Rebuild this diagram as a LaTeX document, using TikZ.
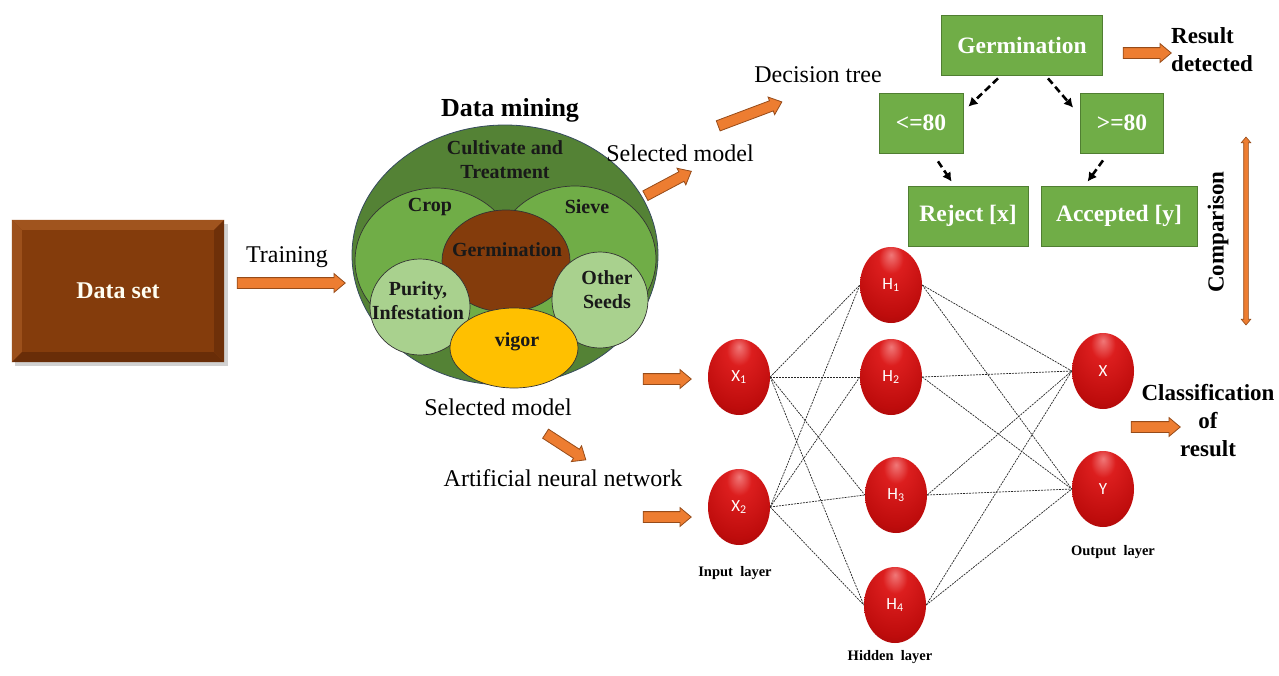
\documentclass[tikz,border=0pt]{standalone}
\usepackage{fontspec}
\setmainfont{Liberation Serif}
\newfontfamily\nnfont{Carlito}
\usetikzlibrary{shapes.geometric,shapes.arrows,arrows.meta,calc}
\definecolor{dkgreen}{RGB}{84,130,53}
\definecolor{mdgreen}{RGB}{112,173,71}
\definecolor{ltgreen}{RGB}{169,209,142}
\definecolor{brownc}{RGB}{132,60,12}
\definecolor{brownlt}{RGB}{160,84,30}
\definecolor{browndk}{RGB}{105,45,8}
\definecolor{goldc}{RGB}{255,192,0}
\definecolor{orangec}{RGB}{237,125,49}
\definecolor{orangeedge}{RGB}{150,75,25}
\definecolor{boxedge}{RGB}{80,126,50}
\definecolor{outeredge}{RGB}{55,75,95}
\definecolor{rA}{RGB}{240,120,120}
\definecolor{rB}{RGB}{220,30,30}
\definecolor{rC}{RGB}{190,12,12}
\definecolor{rD}{RGB}{125,0,0}
\pgfdeclareradialshading{redball}{\pgfpoint{0bp}{20bp}}{color(0bp)=(rA); color(10bp)=(rB); color(32bp)=(rC); color(55bp)=(rD); color(80bp)=(rD)}
\begin{document}
\begin{tikzpicture}[x=1pt,y=-1pt,
  blk/.style={single arrow, draw=orangeedge, fill=orangec, line width=0.8pt,
    inner xsep=0pt, inner ysep=5pt, single arrow head extend=4pt,
    single arrow tip angle=80, anchor=center},
  dblk/.style={double arrow, draw=orangeedge, fill=orangec, line width=0.6pt,
    inner xsep=0pt, inner ysep=2pt, double arrow head extend=2.5pt,
    double arrow tip angle=80, anchor=center},
  lbl/.style={font=\fontsize{24}{26}\selectfont, inner sep=0pt},
  blbl/.style={font=\bfseries\fontsize{23}{28}\selectfont, inner sep=0pt, align=center},
  clbl/.style={font=\bfseries\fontsize{20}{24}\selectfont, inner sep=0pt, align=center, text=black!90},
  tbox/.style={draw=boxedge, line width=0.8pt, fill=mdgreen, text=white,
    font=\bfseries\fontsize{23.5}{26}\selectfont, minimum height=60pt, inner sep=0pt},
  dsh/.style={-{Latex[length=9pt,width=10pt]}, dash pattern=on 7pt off 4pt, line width=2.6pt},
  neuron/.style={ellipse, minimum width=62pt, minimum height=76pt, inner sep=0pt,
    shading=redball, text=white, font=\nnfont\fontsize{17}{18}\selectfont},
  nnline/.style={dash pattern=on 2pt off 1pt, line width=0.7pt, black!85},
  small/.style={font=\bfseries\fontsize{14.5}{16}\selectfont, inner sep=0pt}
]
\useasboundingbox (0,0) rectangle (1279,675);
\fill[white] (0,0) rectangle (1279,675);

% ---------- Data set ----------
\fill[black!18] (15,224) rectangle (228,366);
\node[fill=brownc, minimum width=212pt, minimum height=142pt, inner sep=0pt] (ds) at (118,291) {};
\fill[brownlt] (ds.north west) -- (ds.north east) -- ($(ds.north east)+(-10,10)$) -- ($(ds.north west)+(10,10)$) -- cycle;
\fill[brownlt!85!brownc] (ds.north west) -- ($(ds.north west)+(10,10)$) -- ($(ds.south west)+(10,-10)$) -- (ds.south west) -- cycle;
\fill[browndk] (ds.south west) -- (ds.south east) -- ($(ds.south east)+(-10,-10)$) -- ($(ds.south west)+(10,-10)$) -- cycle;
\fill[browndk!80!brownc] (ds.north east) -- ($(ds.north east)+(-10,10)$) -- ($(ds.south east)+(-10,-10)$) -- (ds.south east) -- cycle;
\node[font=\bfseries\fontsize{24}{26}\selectfont, text=white!95!yellow, inner sep=0pt] (dstxt) at (ds.center) {Data set};

\node[lbl] (train) at (287,257) {Training};
\node[blk, minimum height=108pt] (a1) at (288,283) {};

% ---------- Data mining circle ----------
\node[font=\bfseries\fontsize{26}{28}\selectfont, inner sep=0pt] (dm) at (510,110) {Data mining};
\node[ellipse, draw=outeredge, line width=0.8pt, fill=dkgreen, minimum width=306pt, minimum height=260pt, inner sep=0pt] (outer) at (505,255) {};
\node[ellipse, draw=black!80, line width=0.7pt, fill=mdgreen, minimum width=162pt, minimum height=146pt, inner sep=0pt] (crop) at (436,261) {};
\node[ellipse, draw=black!80, line width=0.7pt, fill=mdgreen, minimum width=162pt, minimum height=146pt, inner sep=0pt] (sieve) at (575,259) {};
\node[ellipse, draw=black!80, line width=0.7pt, fill=brownc, minimum width=128pt, minimum height=102pt, inner sep=0pt] (germ) at (506,261) {};
\node[ellipse, draw=black!80, line width=0.7pt, fill=ltgreen, minimum width=100pt, minimum height=96pt, inner sep=0pt] (purity) at (420,307) {};
\node[ellipse, draw=black!80, line width=0.7pt, fill=ltgreen, minimum width=96pt, minimum height=96pt, inner sep=0pt] (other) at (600,300) {};
\node[ellipse, draw=black!80, line width=0.7pt, fill=goldc, minimum width=128pt, minimum height=80pt, inner sep=0pt] (vigor) at (514,348) {};

\node[clbl] (t1) at (505,160) {Cultivate and\\Treatment};
\node[clbl] (t2) at (430,207) {Crop};
\node[clbl] (t3) at (587,207) {Sieve};
\node[clbl] (t4) at (507,250) {Germination};
\node[clbl] (t5) at (418,301) {Purity,\\Infestation};
\node[clbl] (t6) at (607,290) {Other\\Seeds};
\node[clbl] (t7) at (517,342) {vigor};

\node[lbl] (sm2) at (498,407) {Selected model};
\node[lbl] (sm1) at (680,153) {Selected model};
\node[blk, minimum height=52pt, rotate=28] (a2) at (665.5,185) {};
\node[blk, minimum height=68pt, rotate=20.6] (a3) at (747,115) {};
\node[lbl] (dt) at (818,75) {Decision tree};

% ---------- Decision tree ----------
\node[tbox, minimum width=161pt] (gb) at (1022,45) {Germination};
\node[tbox, minimum width=84pt] (le) at (921,123) {<=80};
\node[tbox, minimum width=83pt] (ge) at (1122,123) {>=80};
\node[tbox, minimum width=120pt] (rej) at (968,216) {Reject [x]};
\node[tbox, minimum width=156pt] (acc) at (1119,216) {Accepted [y]};
\draw[dsh] ($(gb.south)+(-24,3)$) -- ($(le.north east)+(5,14)$);
\draw[dsh] ($(gb.south)+(26,3)$) -- ($(ge.north west)+(-7,15)$);
\draw[dsh] ($(le.south)+(17,8)$) -- ($(rej.north west)+(44,-4)$);
\draw[dsh] ($(ge.south)+(-19,7)$) -- ($(acc.north west)+(47,-4)$);

\node[blk, minimum height=48pt] (a4) at (1144,53) {};
\node[blbl, align=left, anchor=west] (rd) at (1171,50) {Result\\detected};

\node[dblk, minimum height=188pt, rotate=90] (cmp) at (1246,231) {};
\node[blbl, rotate=90] (cmptxt) at (1218,232) {Comparison};

% ---------- Neural network ----------
\node[blk, minimum height=48pt] (a5) at (664,379) {};
\node[blk, minimum height=48pt] (a6) at (664,517) {};
\node[blk, minimum height=48pt, rotate=-33] (a7) at (563,445) {};
\node[lbl] (ann) at (563,478) {Artificial neural network};

\node[neuron] (x1) at (739,377) {X\textsubscript{1}};
\node[neuron] (x2) at (739,507) {X\textsubscript{2}};
\node[neuron] (h1) at (891,285) {H\textsubscript{1}};
\node[neuron] (h2) at (891,377) {H\textsubscript{2}};
\node[neuron] (h3) at (896,495) {H\textsubscript{3}};
\node[neuron] (h4) at (895,605) {H\textsubscript{4}};
\node[neuron] (ox) at (1103,371) {X};
\node[neuron] (oy) at (1103,489) {Y};

\foreach \i in {x1,x2}{
  \foreach \h in {h1,h2,h3,h4}{
    \draw[nnline] (\i.east) -- (\h.west);
  }
}
\foreach \h in {h1,h2,h3,h4}{
  \foreach \o in {ox,oy}{
    \draw[nnline] (\h.east) -- (\o.west);
  }
}

\node[small] (il) at (735,573) {Input\ \ layer};
\node[small] (hl) at (890,657) {Hidden\ \ layer};
\node[small] (ol) at (1113,552) {Output\ \ layer};

\node[blk, minimum height=49pt] (a8) at (1152.5,427) {};
\node[blbl] (cls) at (1208,421) {Classification\\of\\result};
\end{tikzpicture}
\end{document}
